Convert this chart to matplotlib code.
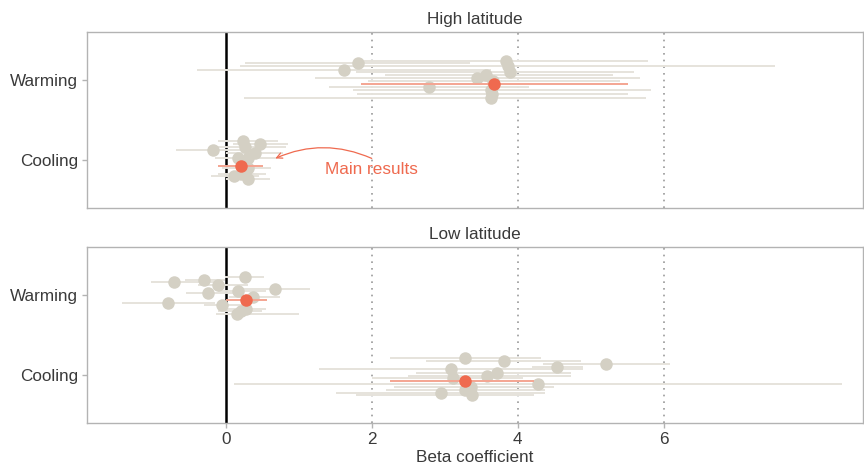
import matplotlib
matplotlib.use('Agg')
import matplotlib.pyplot as plt

plt.rcParams['font.family'] = ['Liberation Sans', 'DejaVu Sans']

categories = ['Cooling', 'Warming']
panels = ['High latitude', 'Low latitude']

# High latitude, warming
hw_est = [1.62, 1.81, 2.79, 3.84, 3.87, 3.89, 3.57, 3.44, 3.65, 3.64, 3.66, 3.63]
hw_jit = [0.13, 0.21, -0.09, 0.24, 0.17, 0.10, 0.06, 0.02, -0.17, -0.22, -0.01, -0.13]
hw_lo = [-0.40, 0.26, 1.41, 1.90, 0.19, 1.78, 2.18, 1.23, 1.80, 0.25, 1.95, 1.75]
hw_hi = [3.64, 3.34, 4.16, 5.78, 7.53, 5.59, 5.30, 5.67, 5.51, 5.76, 5.40, 5.83]
hw_main = (3.68, -0.05, 1.85, 5.51)

# High latitude, cooling
hc_est = [-0.18, 0.24, 0.26, 0.47, 0.40, 0.31, 0.17, 0.31, 0.11, 0.21, 0.31]
hc_jit = [0.125, 0.24, 0.166, 0.196, 0.084, 0.02, 0.02, -0.104, -0.20, -0.18, -0.24]
hc_lo = [-0.68, -0.11, -0.14, 0.10, 0.00, 0.00, -0.15, -0.05, -0.20, -0.10, 0.00]
hc_hi = [0.40, 0.71, 0.82, 0.85, 0.78, 0.70, 0.55, 0.62, 0.45, 0.55, 0.60]
hc_main = (0.21, -0.07, -0.11, 0.51)

# Low latitude, warming
lw_est = [-0.71, -0.30, -0.10, 0.26, 0.17, 0.67, -0.24, -0.79, 0.38, -0.05, 0.28, 0.21, 0.15]
lw_jit = [0.16, 0.19, 0.12, 0.225, 0.05, 0.08, 0.02, -0.10, -0.03, -0.13, -0.17, -0.20, -0.24]
lw_lo = [-1.02, -0.56, -0.38, -0.01, -0.10, 0.24, -0.55, -1.42, 0.05, -0.30, -0.05, -0.10, -0.13]
lw_hi = [-0.04, -0.01, 0.30, 0.53, 0.55, 1.15, 0.10, -0.15, 0.75, 0.25, 0.55, 0.50, 1.01]
lw_main = (0.28, -0.06, 0.01, 0.56)

# Low latitude, cooling
lc_est = [3.28, 3.81, 3.08, 3.12, 3.58, 3.72, 3.36, 3.28, 2.95, 3.37, 4.54, 5.21, 4.28]
lc_jit = [0.216, 0.18, 0.07, -0.034, -0.01, 0.03, -0.15, -0.19, -0.22, -0.25, 0.10, 0.14, -0.11]
lc_lo = [2.25, 2.75, 1.28, 2.00, 2.50, 2.60, 2.30, 2.20, 1.51, 1.78, 4.20, 4.34, 0.12]
lc_hi = [4.32, 4.87, 4.89, 4.07, 4.73, 4.73, 4.50, 4.38, 4.38, 4.23, 4.89, 6.08, 8.44]
lc_main = (3.28, -0.08, 2.25, 4.23)

panel_data = [
    [(hc_est, hc_jit, hc_lo, hc_hi, hc_main), (hw_est, hw_jit, hw_lo, hw_hi, hw_main)],
    [(lc_est, lc_jit, lc_lo, lc_hi, lc_main), (lw_est, lw_jit, lw_lo, lw_hi, lw_main)],
]

GREY_PT = '#d4d0c4'
GREY_BAR = '#e6e3dc'
RED_PT = '#ef6a4f'
RED_BAR = '#f4a592'
BORDER = '#b3b3b3'
TXT = '#3a3a3a'
FS = 12.3

fig = plt.figure(figsize=(8.64, 4.70), dpi=100)
ax_top = fig.add_axes([87 / 864, 1 - 208 / 470, 776 / 864, 176 / 470])
ax_bot = fig.add_axes([87 / 864, 1 - 423 / 470, 776 / 864, 176 / 470])

for ax, title, groups in zip([ax_top, ax_bot], panels, panel_data):
    for xv in [2, 4, 6]:
        ax.axvline(xv, color='#999999', ls=(0, (1, 3)), lw=1.2, zorder=1)
    ax.axvline(0, color='black', lw=1.8, zorder=2)
    for k, (est, jit, lo, hi, main) in enumerate(groups):
        ypos = [k + 1 + j for j in jit]
        ax.hlines(ypos, lo, hi, color=GREY_BAR, lw=1.4, zorder=3)
        ax.plot(est, ypos, 'o', color=GREY_PT, ms=9, mew=0, zorder=4)
        ax.hlines(k + 1 + main[1], main[2], main[3], color=RED_BAR, lw=1.4, zorder=5)
        ax.plot(main[0], k + 1 + main[1], 'o', color=RED_PT, ms=9, mew=0, zorder=6)
    ax.set_xlim(-1.90, 8.73)
    ax.set_ylim(0.4, 2.6)
    ax.set_yticks([1, 2])
    ax.set_yticklabels(categories, fontsize=FS, color=TXT)
    ax.set_xticks([0, 2, 4, 6])
    for s in ax.spines.values():
        s.set_color(BORDER)
        s.set_linewidth(1)
    ax.tick_params(color=BORDER, length=3.5, width=1, pad=3)
    ax.set_title(title, fontsize=FS, color=TXT, pad=6)

ax_top.tick_params(axis='x', length=0, labelbottom=False)
ax_bot.set_xticklabels(['0', '2', '4', '6'], fontsize=FS, color=TXT)
ax_bot.set_xlabel('Beta coefficient', fontsize=FS, color=TXT, labelpad=2)

ax_top.text(2.0, 0.88, 'Main results', ha='center', va='center',
            fontsize=FS, color=RED_PT)
ax_top.annotate('', xy=(0.68, 1.02), xytext=(2.0, 1.02),
                arrowprops=dict(arrowstyle='->', color=RED_PT, lw=0.9,
                                shrinkA=0, shrinkB=0,
                                connectionstyle='arc3,rad=0.22'))

fig.savefig('out.png', dpi=100)
